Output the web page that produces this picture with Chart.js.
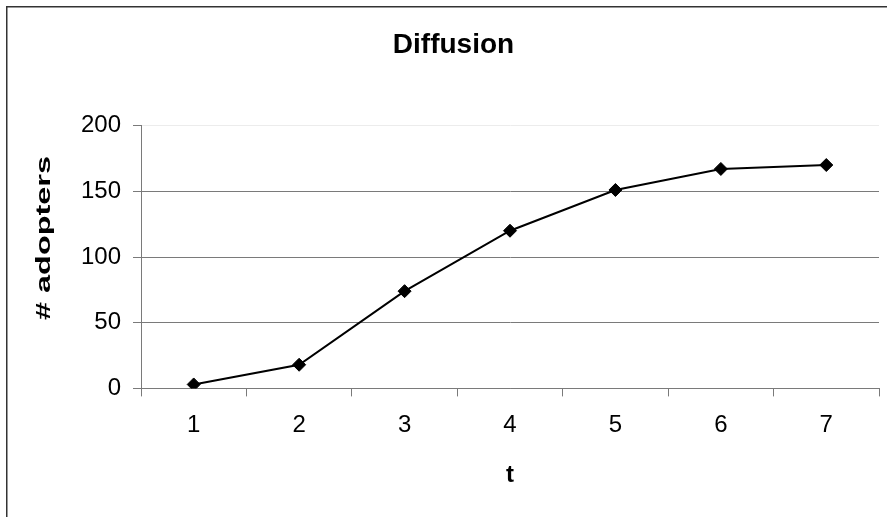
<!DOCTYPE html>
<html>
<head>
<meta charset="utf-8">
<title>Diffusion</title>
<script src="https://cdn.jsdelivr.net/npm/chart.js@4.4.1/dist/chart.umd.min.js"></script>
<style>
  html, body { margin: 0; padding: 0; background: #ffffff; }
  #wrap { width: 887px; height: 517px; position: relative; }
  canvas { display: block; }
</style>
</head>
<body>
<div id="wrap"><canvas id="chart" width="887" height="517"></canvas></div>
<script>
// Time steps and number of adopters at each step
const categories = ['1', '2', '3', '4', '5', '6', '7'];
const adopters = [3, 18, 74, 120, 151, 167, 170];
const yMin = 0;
const yMax = 200;
const yStep = 50;

const FONT = "'Liberation Sans', Arial, Helvetica, sans-serif";
const GRID = '#7a7a7a';

// White page background plus the outer frame of the chart box
const framePlugin = {
  id: 'frame',
  beforeDraw(chart) {
    const ctx = chart.ctx;
    ctx.save();
    ctx.fillStyle = '#ffffff';
    ctx.fillRect(0, 0, chart.width, chart.height);
    ctx.strokeStyle = '#333333';
    ctx.lineWidth = 1.5;
    ctx.beginPath();
    ctx.moveTo(6.75, chart.height + 5);
    ctx.lineTo(6.75, 6.75);
    ctx.lineTo(chart.width + 5, 6.75);
    ctx.stroke();
    ctx.restore();
  }
};

// Vertical axis title, drawn rotated and stretched along its length
const yTitlePlugin = {
  id: 'yTitle',
  afterDraw(chart) {
    const ctx = chart.ctx;
    ctx.save();
    ctx.translate(44, 238);
    ctx.rotate(-Math.PI / 2);
    ctx.scale(1.62, 1);
    ctx.font = 'bold 20px ' + FONT;
    ctx.fillStyle = '#000000';
    ctx.textAlign = 'center';
    ctx.textBaseline = 'middle';
    ctx.fillText('# adopters', 0, 0);
    ctx.restore();
  }
};

new Chart(document.getElementById('chart'), {
  type: 'line',
  data: {
    labels: categories,
    datasets: [{
      label: '# adopters',
      data: adopters,
      borderColor: '#000000',
      borderWidth: 2,
      backgroundColor: '#000000',
      pointStyle: 'rectRot',
      pointRadius: 6.5,
      pointBorderWidth: 1,
      pointBorderColor: '#000000',
      pointBackgroundColor: '#000000',
      tension: 0,
      fill: false
    }]
  },
  options: {
    responsive: false,
    animation: false,
    devicePixelRatio: 1,
    layout: { padding: { left: 28, right: 8, top: 0, bottom: 27 } },
    plugins: {
      legend: { display: false },
      tooltip: { enabled: false },
      title: {
        display: true,
        text: 'Diffusion',
        color: '#000000',
        font: { family: FONT, size: 28, weight: 'bold' },
        padding: { top: 28, bottom: 64 }
      }
    },
    scales: {
      x: {
        type: 'category',
        offset: true,
        grid: {
          offset: true,
          drawOnChartArea: false,
          drawTicks: true,
          tickLength: 8,
          color: GRID
        },
        border: { color: GRID, width: 1 },
        ticks: {
          color: '#000000',
          font: { family: FONT, size: 24 },
          padding: 15,
          maxRotation: 0
        },
        title: {
          display: true,
          text: 't',
          color: '#000000',
          font: { family: FONT, size: 24, weight: 'bold' },
          padding: { top: 6, bottom: 0 }
        }
      },
      y: {
        min: yMin,
        max: yMax,
        grid: {
          color: (c) => (c.tick && c.tick.value === yMax ? '#ececec' : GRID),
          tickColor: GRID,
          tickLength: 8,
          lineWidth: 1
        },
        border: { color: GRID, width: 1 },
        ticks: {
          stepSize: yStep,
          color: '#000000',
          font: { family: FONT, size: 24 },
          padding: 12
        },
        afterFit(scale) { scale.width = 113; }
      }
    }
  },
  plugins: [framePlugin, yTitlePlugin]
});
</script>
</body>
</html>
